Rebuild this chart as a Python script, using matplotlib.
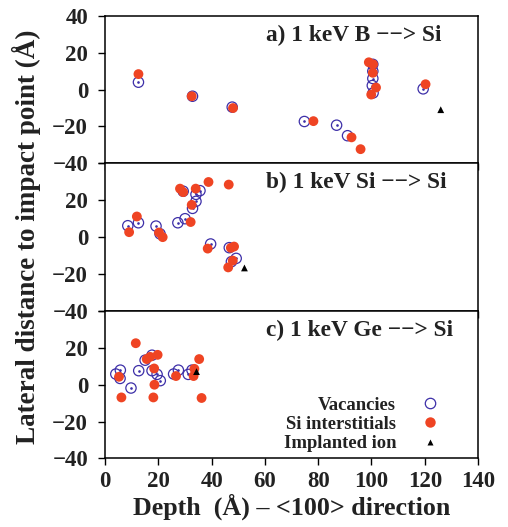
import numpy as np
import matplotlib
matplotlib.use("Agg")
import matplotlib.pyplot as plt
from matplotlib.lines import Line2D

plt.rcParams['font.family'] = ['Liberation Serif', 'DejaVu Serif']
plt.rcParams['font.weight'] = 'bold'

titles = ["a) 1 keV B \u2212\u2212> Si", "b) 1 keV Si \u2212\u2212> Si", "c) 1 keV Ge \u2212\u2212> Si"]

# panel a: B -> Si
vac_a_x = [12.5, 32.8, 47.7, 74.8, 86.9, 91.0, 100.5, 100.5, 100.5, 100.3, 100.6, 119.4]
vac_a_y = [4.0, -3.6, -9.5, -17.3, -19.3, -25.0, 13.7, 10.0, 6.0, 2.2, -1.8, 0.4]
int_a_x = [12.5, 32.5, 48.0, 78.2, 92.5, 95.9, 99.0, 100.6, 100.5, 101.7, 99.9, 120.3]
int_a_y = [8.4, -3.6, -10.0, -17.1, -25.9, -32.3, 14.8, 13.7, 9.1, 1.1, -2.7, 2.9]
ion_a_x = [126.0]
ion_a_y = [-10.9]

# panel b: Si -> Si
vac_b_x = [8.5, 12.5, 19.1, 20.6, 27.3, 30.0, 29.3, 35.6, 34.1, 34.1, 32.8, 39.6, 46.6, 49.2, 47.4]
vac_b_y = [6.2, 7.8, 6.0, 1.8, 7.8, 10.0, 24.9, 25.2, 23.2, 19.4, 15.6, -3.7, -5.7, -11.5, -13.3]
int_b_x = [11.9, 9.0, 20.2, 21.6, 28.1, 29.3, 34.0, 38.8, 46.4, 32.5, 32.1, 38.5, 47.2, 48.4, 47.9, 46.2]
int_b_y = [11.2, 2.7, 2.5, 0.0, 26.3, 24.4, 26.3, 29.9, 28.5, 17.5, 8.2, -6.2, -5.8, -5.1, -12.7, -16.4]
ion_b_x = [52.3]
ion_b_y = [-16.7]

# panel c: Ge -> Si
vac_c_x = [4.0, 5.7, 5.6, 9.7, 12.6, 15.0, 17.6, 17.6, 19.5, 20.7, 25.7, 27.5, 31.2, 32.6]
vac_c_y = [5.8, 7.9, 3.4, -1.8, 7.6, 13.3, 16.0, 7.6, 5.6, 2.2, 5.8, 7.9, 5.6, 7.9]
int_c_x = [5.2, 6.1, 11.5, 15.6, 16.9, 19.7, 18.4, 18.5, 18.1, 26.6, 33.5, 33.2, 35.3, 36.2]
int_c_y = [4.3, -6.9, 22.5, 13.9, 15.1, 16.2, 8.8, 0.0, -6.9, 4.7, 8.6, 4.7, 13.9, -7.2]
ion_c_x = [34.3]
ion_c_y = [7.1]

vac_x = [vac_a_x, vac_b_x, vac_c_x]
vac_y = [vac_a_y, vac_b_y, vac_c_y]
int_x = [int_a_x, int_b_x, int_c_x]
int_y = [int_a_y, int_b_y, int_c_y]
ion_x = [ion_a_x, ion_b_x, ion_c_x]
ion_y = [ion_a_y, ion_b_y, ion_c_y]

blue = '#3d2fa8'
red = '#ef4423'

fig = plt.figure(figsize=(5.08, 5.27), dpi=100)
axes = fig.subplots(3, 1, sharex=True)
fig.subplots_adjust(left=0.207, right=0.941, top=0.970, bottom=0.130, hspace=0)

for i, ax in enumerate(axes):
    ax.scatter(vac_x[i], vac_y[i], s=55, facecolors='none', edgecolors=blue, linewidths=0.9, zorder=2)
    ax.scatter(vac_x[i], vac_y[i], s=0.8, c=blue, zorder=2)
    ax.scatter(int_x[i], int_y[i], s=50, c=red, edgecolors='none', zorder=3)
    ax.scatter(ion_x[i], ion_y[i], s=24, c='black', marker='^', edgecolors='none', zorder=4)
    ax.set_xlim(0, 140)
    ax.set_ylim(-40, 40)
    ax.set_yticks([-40, -20, 0, 20, 40])
    if i == 0:
        ax.set_yticklabels(['\u221240', '\u221220', '0', '20', '40'])
    else:
        ax.set_yticklabels(['\u221240', '\u221220', '0', '20', ''])
    ax.set_xticks(np.arange(0, 141, 20))
    ax.tick_params(direction='out', length=4.8, width=1, labelsize=16.5, labelcolor='#222222')
    ax.tick_params(axis='y', pad=7.5)
    ax.tick_params(axis='x', pad=4.3)
    for sp in ax.spines.values():
        sp.set_linewidth(1.1)
    ax.text(0.432, 0.87, titles[i], transform=ax.transAxes, ha='left', va='center',
            fontsize=16.8, fontweight='bold', color='#222222')

axes[1].set_ylabel("Lateral distance to impact point (\u00c5)", fontsize=19.5, fontweight='bold',
                   labelpad=8, color='#222222')
axes[2].set_xlabel("Depth  (\u00c5) \u2013 <100> direction", fontsize=18.7, fontweight='bold',
                   labelpad=1, color='#222222')

handles = [
    Line2D([], [], ls='none', marker='o', ms=7.5, mfc='none', mec=blue, mew=0.9),
    Line2D([], [], ls='none', marker='o', ms=7.5, mfc=red, mec='none'),
    Line2D([], [], ls='none', marker='^', ms=5, mfc='black', mec='none'),
]
leg = axes[2].legend(handles, ["Vacancies", "Si interstitials", "Implanted ion"],
                     loc='lower right', bbox_to_anchor=(0.92, -0.02), frameon=False,
                     markerfirst=False, fontsize=13.4, handlelength=1.0, handletextpad=1.3,
                     labelspacing=0.12, borderpad=0)
for t in leg.get_texts():
    t.set_color('#222222')

fig.savefig("out.png", dpi=100)
